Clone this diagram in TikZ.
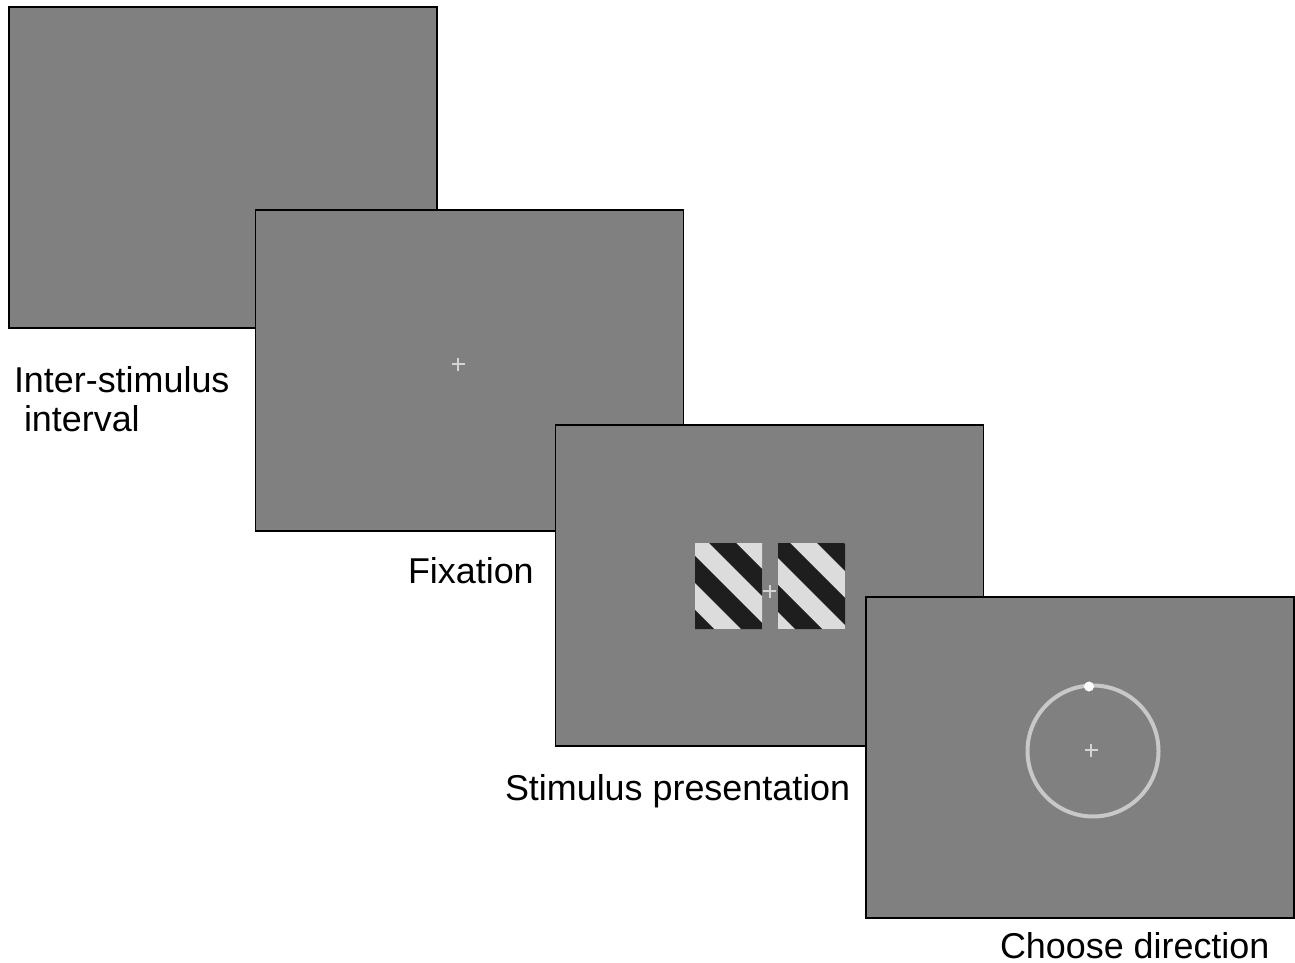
\documentclass[tikz,border=0pt]{standalone}
\usepackage{fontspec}
\setmainfont{Liberation Sans}
\definecolor{panelgray}{RGB}{128,128,128}
\definecolor{gratlight}{RGB}{220,220,220}
\definecolor{gratdark}{RGB}{30,30,30}
\definecolor{crossgray}{RGB}{212,212,212}
\definecolor{ringgray}{RGB}{200,200,200}
\begin{document}
\begin{tikzpicture}[x=1pt,y=-1pt,
  panel/.style={draw=black, line width=1.5pt, fill=panelgray, minimum width=428pt, minimum height=321pt, inner sep=0pt, outer sep=0pt},
  lbl/.style={anchor=base west, inner sep=0pt, outer sep=0pt, font=\fontsize{35.9}{40}\selectfont},
  fixcross/.style={draw=crossgray, line width=2pt},
  ring/.style={draw=ringgray, line width=4pt},
]
\useasboundingbox (0,0) rectangle (1295,963);

% panels
\node[panel] (isi) at (223,167.5) {};
\node[panel] (fix) at (469.5,370.5) {};
\draw[fixcross] (451.5,364) -- (464.5,364) (458,357.5) -- (458,370.5);
\node[panel] (stim) at (769.5,585.5) {};
\draw[fixcross] (763,591) -- (776,591) (769.5,584.5) -- (769.5,597.5);
% gratings
\begin{scope}
  \clip (695,543) rectangle (762,629) (778,543) rectangle (845,629);
  \fill[gratlight] (695,543) rectangle (845,629);
  \foreach \a in {58,112,166,220,274} {
    \fill[gratdark] (\a+500,500) -- (\a+527,500) -- (\a+707,680) -- (\a+680,680) -- cycle;
  }
\end{scope}
\node[panel] (resp) at (1080,757.5) {};
\draw[ring] (1093,751) circle[radius=65.5];
\fill[white] (1089,686.5) circle[radius=5];
\draw[fixcross] (1084.5,750) -- (1097.5,750) (1091,743.5) -- (1091,756.5);

% labels
\node[lbl] (isilbl) at (14,392) {Inter-stimulus};
\node[lbl] (isilbl2) at (24,431) {interval};
\node[lbl] (fixlbl) at (408,583) {Fixation};
\node[lbl] (stimlbl) at (505,800) {Stimulus presentation};
\node[lbl] (resplbl) at (1000,958) {Choose direction};
\end{tikzpicture}
\end{document}
